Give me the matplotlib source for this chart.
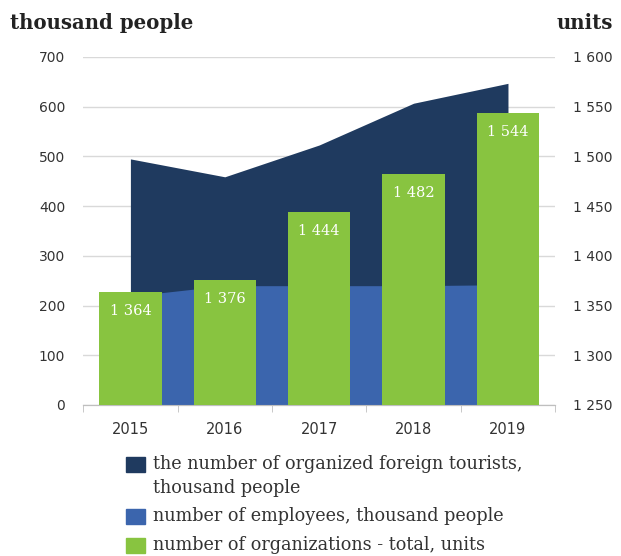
import matplotlib.pyplot as plt
from matplotlib.patches import Rectangle

years = ['2015', '2016', '2017', '2018', '2019']
tourists = [495, 459, 523, 607, 647]        # thousand people
employees = [219, 240, 240, 240, 242]       # thousand people
organizations = [1364, 1376, 1444, 1482, 1544]  # units

c_dark = '#1f3a5f'
c_blue = '#3b65ad'
c_green = '#88c440'

W, H = 621, 556
fig = plt.figure(figsize=(W / 100, H / 100), dpi=100)
ax = fig.add_axes([0.134, 0.2716, 0.760, 0.6259])
ax2 = ax.twinx()

x = list(range(len(years)))

ax.fill_between(x, 0, tourists, color=c_dark, linewidth=0, zorder=2)
ax.fill_between(x, 0, employees, color=c_blue, linewidth=0, zorder=3)
ax.set_ylim(0, 700)
ax.set_xlim(-0.5, 4.5)
ax.set_yticks(range(0, 701, 100))
ax.yaxis.grid(True, color='#d9d9d9', linewidth=1)
ax.set_axisbelow(True)

ax2.bar(x, [v - 1250 for v in organizations], bottom=1250, width=0.66,
        color=c_green, zorder=4)
ax2.set_ylim(1250, 1600)
ax2.set_yticks(range(1250, 1601, 50))
ax2.set_yticklabels([f'{v:,}'.replace(',', ' ') for v in range(1250, 1601, 50)])

for xi, v in zip(x, organizations):
    ax2.text(xi, v - 19, f'{v:,}'.replace(',', ' '), ha='center', va='center',
             color='white', fontsize=10.5, family='DejaVu Serif', zorder=5)

ax.set_xticks(x)
ax.set_xticklabels(years)
ax.set_xticks([i - 0.5 for i in range(len(years) + 1)], minor=True)
ax.tick_params(axis='x', which='major', length=0, pad=12, labelsize=10.5, colors='#333333')
ax.tick_params(axis='x', which='minor', length=5, color='#bfbfbf')
ax.tick_params(axis='y', length=0, labelsize=10, colors='#333333', pad=13)
ax2.tick_params(axis='y', length=0, labelsize=10, colors='#333333', pad=13)

for a in (ax, ax2):
    for s in ('top', 'left', 'right'):
        a.spines[s].set_visible(False)
    a.spines['bottom'].set_color('#bfbfbf')

ax2.patch.set_visible(False)

fig.text(10 / W, 1 - 23 / H, 'thousand people', fontsize=14.2, fontweight='bold',
         family='DejaVu Serif', color='#222222', va='center')
fig.text(613 / W, 1 - 23 / H, 'units', fontsize=14.2, fontweight='bold',
         family='DejaVu Serif', color='#222222', va='center', ha='right')

# legend drawn by hand: swatch aligned with the first line of each entry
legend_rows = [
    (c_dark, ['the number of organized foreign tourists,', 'thousand people'], 464),
    (c_blue, ['number of employees, thousand people'], 516),
    (c_green, ['number of organizations - total, units'], 545),
]
for color, lines, yc in legend_rows:
    fig.add_artist(Rectangle((126 / W, 1 - (yc + 8) / H), 19 / W, 15 / H,
                             transform=fig.transFigure, color=color))
    for i, line in enumerate(lines):
        fig.text(153 / W, 1 - (yc + i * 24) / H, line, fontsize=12.7,
                 family='DejaVu Serif', color='#333333', va='center')

fig.savefig('out.png', dpi=100)
